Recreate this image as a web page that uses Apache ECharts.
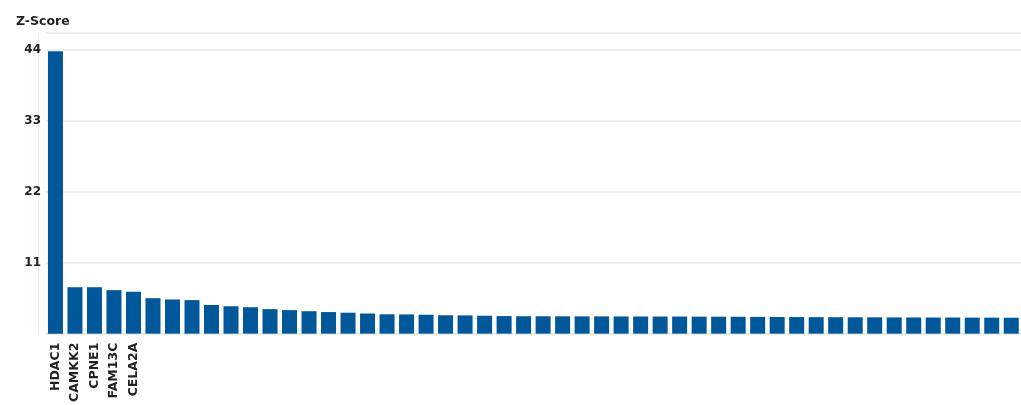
<!DOCTYPE html>
<html>
<head>
<meta charset="utf-8">
<script src="https://cdn.jsdelivr.net/npm/echarts@6/dist/echarts.min.js"></script>
<style>
html,body{margin:0;padding:0;background:#fff;}
#c{width:1021px;height:405px;}
</style>
</head>
<body>
<div id="c"></div>
<script>
var titleText = 'Z-Score';
var categories = ['HDAC1','CAMKK2','CPNE1','FAM13C','CELA2A',
  '','','','','','','','','','','','','','','','','','','','',
  '','','','','','','','','','','','','','','','','','','','',
  '','','','',''];
var zScores = [43.8, 7.2, 7.2, 6.75, 6.5, 5.5, 5.3, 5.2, 4.45, 4.25,
  4.1, 3.8, 3.65, 3.48, 3.35, 3.25, 3.12, 3.0, 2.98, 2.93,
  2.85, 2.83, 2.78, 2.73, 2.7, 2.7, 2.69, 2.68, 2.68, 2.67,
  2.66, 2.65, 2.65, 2.64, 2.63, 2.62, 2.6, 2.58, 2.57, 2.56,
  2.55, 2.54, 2.53, 2.52, 2.51, 2.5, 2.5, 2.49, 2.48, 2.47];
var yTicks = [0, 11, 22, 33, 44];
var yMax = 46.63;

var chart = echarts.init(document.getElementById('c'), null, {renderer:'canvas'});
chart.setOption({
  animation: false,
  backgroundColor: '#ffffff',
  title: {
    text: titleText, left: 11, top: 10,
    textStyle: {fontFamily: 'DejaVu Sans', fontWeight: 'bold', fontSize: 12.5, color: '#222'}
  },
  grid: {left: 45.7, right: -6.2, top: 33, bottom: 70.5, containLabel: false},
  xAxis: {
    type: 'category',
    data: categories,
    offset: 6,
    axisLine: {show: true, lineStyle: {color: '#e4e4e4', width: 1}},
    axisTick: {show: false},
    axisLabel: {
      interval: 0, rotate: 90, margin: 3,
      fontFamily: 'DejaVu Sans', fontWeight: 'bold', fontSize: 12.5, color: '#222'
    },
    splitLine: {show: false}
  },
  yAxis: {
    type: 'value',
    min: 0, max: yMax, interval: 11,
    offset: 7.7,
    axisLine: {show: true, lineStyle: {color: '#ececec', width: 1}},
    axisTick: {show: false},
    axisLabel: {
      margin: -3,
      fontFamily: 'DejaVu Sans', fontWeight: 'bold', fontSize: 12, color: '#222',
      formatter: function (v) { return yTicks.indexOf(v) > 0 ? String(v) : ''; }
    },
    splitLine: {show: true, lineStyle: {color: '#e8e8e8', width: 1.5}}
  },
  series: [{
    type: 'bar',
    data: zScores,
    barWidth: 15,
    itemStyle: {color: '#00589a'}
  }]
});
</script>
</body>
</html>
